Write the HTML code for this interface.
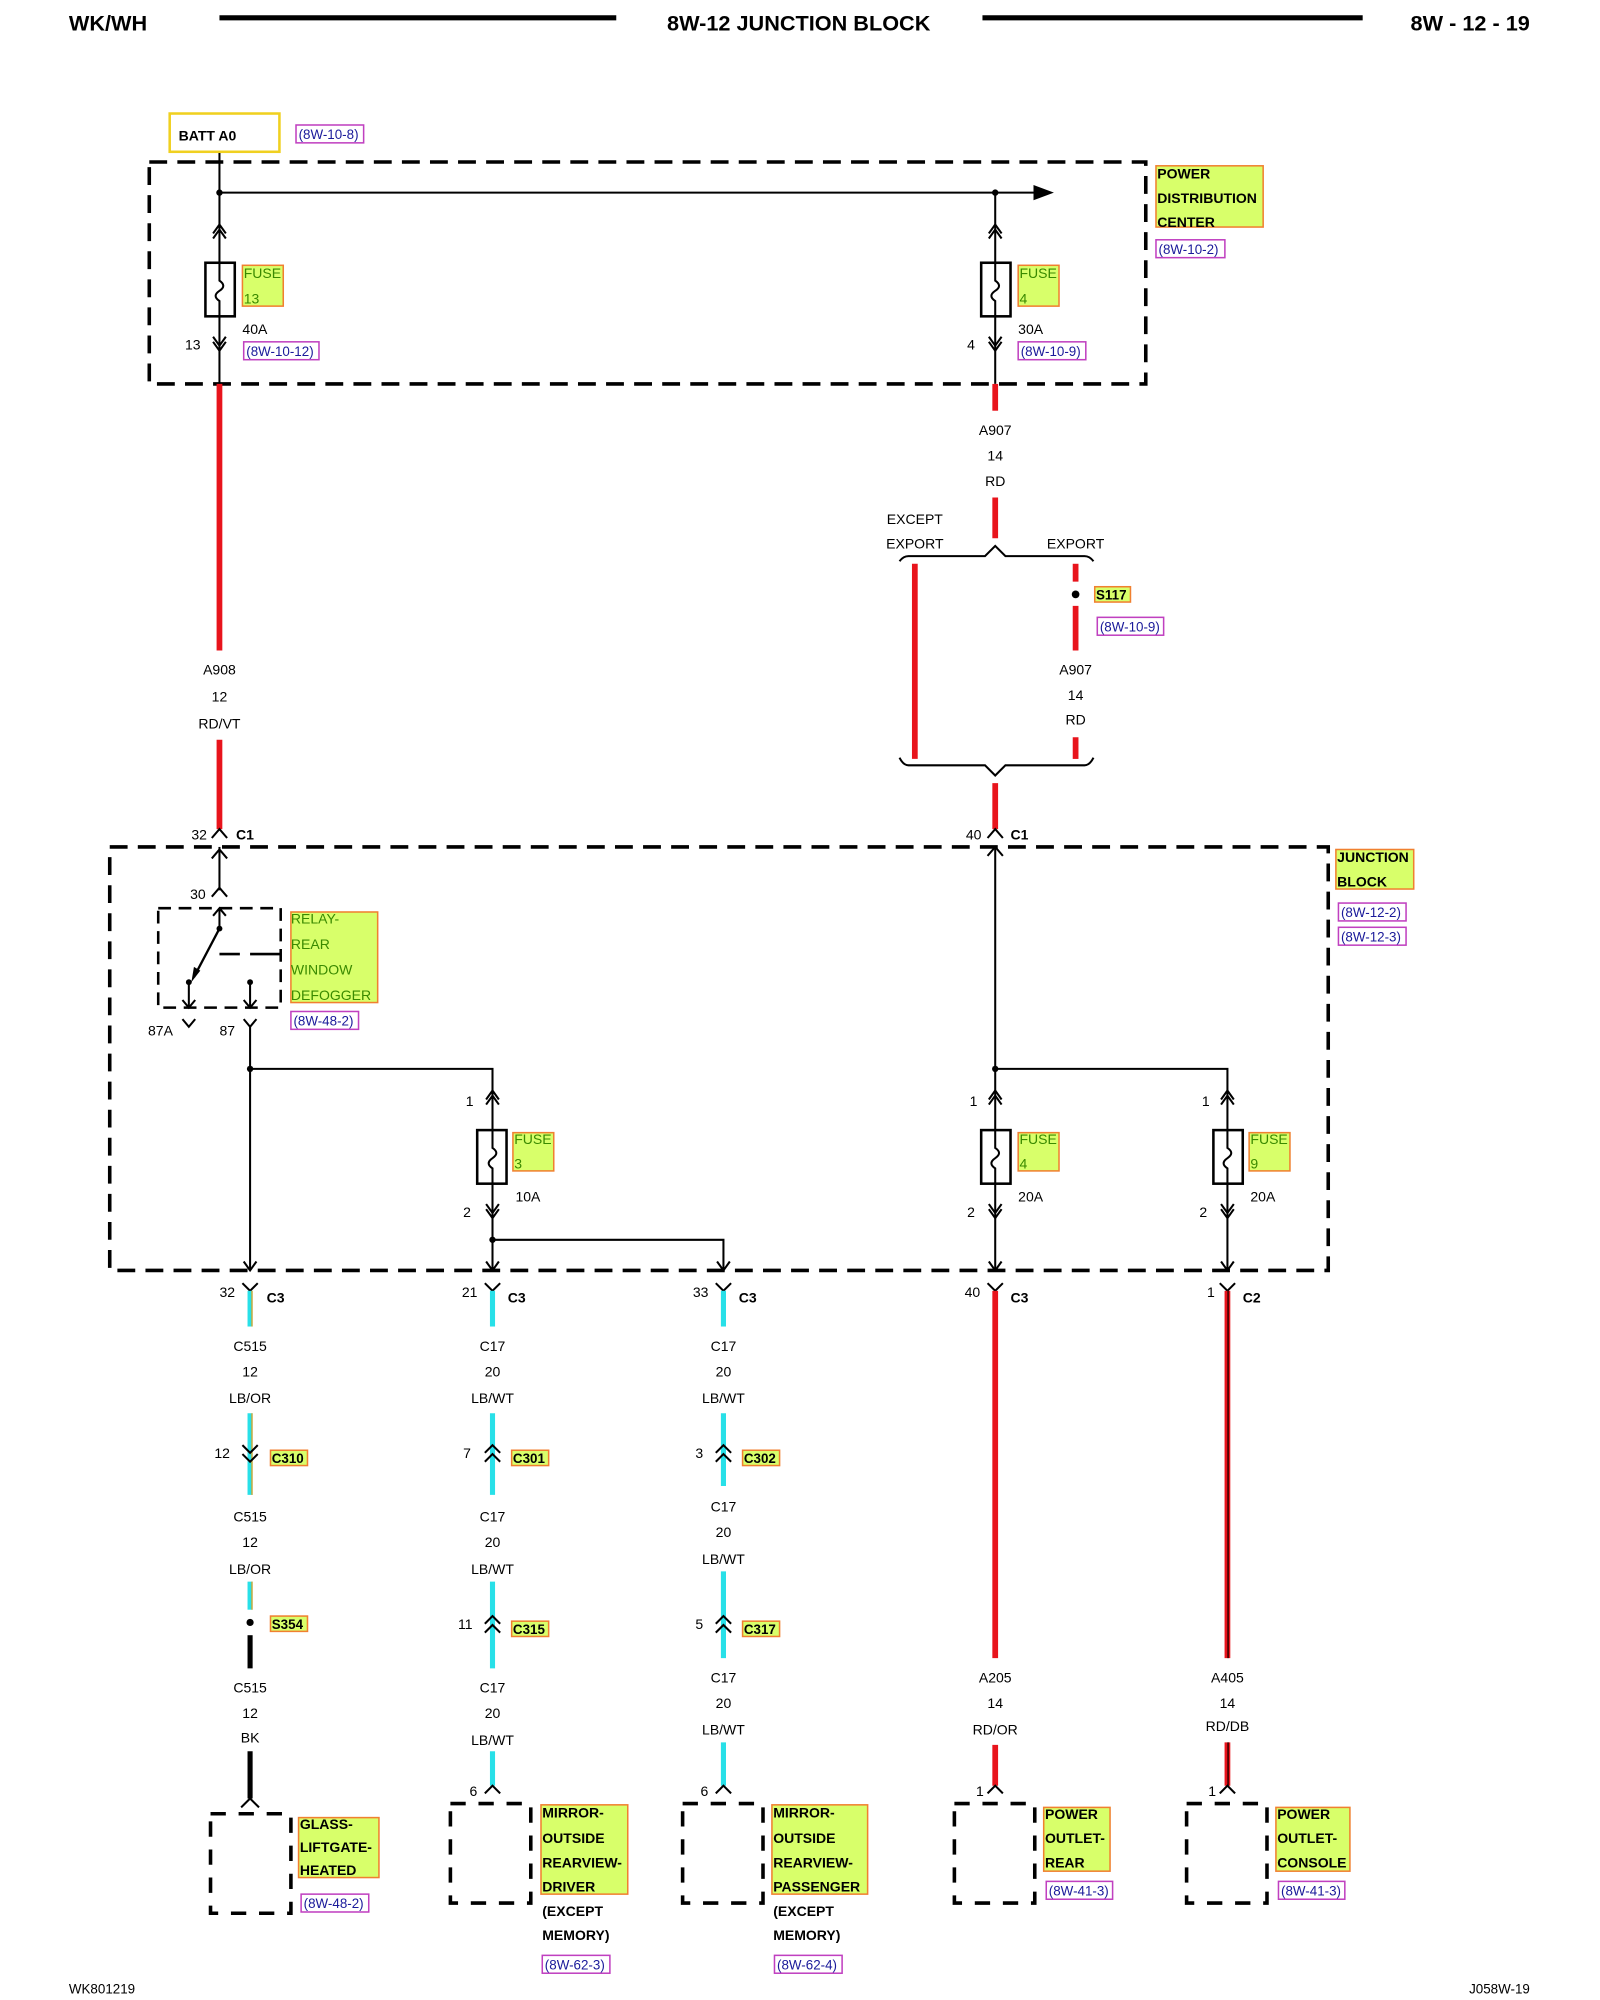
<!DOCTYPE html>
<html><head><meta charset="utf-8"><style>
html,body{margin:0;padding:0;background:#fff;width:1600px;height:2000px;overflow:hidden}
svg{display:block}
text{font-family:"Liberation Sans",Arial,sans-serif;font-size:11px;fill:#000}
.b{font-weight:bold}
.c{text-anchor:middle}
.r{text-anchor:end}
.g{fill:#3a8a00}
.ref{fill:#1a1a9a;font-size:10.5px}
.lab{fill:#d8ff6a;stroke:#f08030;stroke-width:1.2}
.refb{fill:none;stroke:#c040c0;stroke-width:1.2}
.w{stroke:#000;stroke-width:1.6;fill:none}
.red{stroke:#e8141c;stroke-width:4.5;fill:none}
.cy{stroke:#28e0e8;stroke-width:4;fill:none}
.dash{stroke:#000;stroke-width:2.8;fill:none;stroke-dasharray:14 8}
.ch{stroke:#000;stroke-width:1.6;fill:none}
</style></head><body>
<svg width="1600" height="2000" viewBox="0 0 1254 1568" preserveAspectRatio="none" xmlns="http://www.w3.org/2000/svg">
<!-- header -->
<text x="54" y="24" class="b" style="font-size:17px">WK/WH</text>
<line x1="172" y1="14" x2="483" y2="14" stroke="#000" stroke-width="4"/>
<text x="626" y="24" class="b c" style="font-size:17px">8W-12 JUNCTION BLOCK</text>
<line x1="770" y1="14" x2="1068" y2="14" stroke="#000" stroke-width="4"/>
<text x="1199" y="24" class="b r" style="font-size:17px">8W - 12 - 19</text>

<!-- BATT -->
<rect x="133" y="89" width="86" height="30" fill="#fff" stroke="#f0d020" stroke-width="2"/>
<text x="140" y="110" class="b">BATT A0</text>
<rect x="232" y="98" width="53" height="14" class="refb"/><text x="234" y="109" class="ref">(8W-10-8)</text>

<!-- PDC -->
<rect x="117" y="127" width="781" height="174" class="dash"/>
<rect x="906" y="130" width="84" height="48" class="lab"/>
<text x="907" y="140" class="b">POWER</text><text x="907" y="159" class="b">DISTRIBUTION</text><text x="907" y="178" class="b">CENTER</text>
<rect x="906" y="188" width="54" height="14" class="refb"/><text x="908" y="199" class="ref">(8W-10-2)</text>
<line x1="172" y1="120" x2="172" y2="301" class="w"/>
<line x1="172" y1="151" x2="812" y2="151" class="w"/>
<path d="M810 145 L826 151 L810 157Z" fill="#000"/>
<circle cx="172" cy="151" r="2.5"/><circle cx="780" cy="151" r="2.5"/>
<line x1="780" y1="151" x2="780" y2="301" class="w"/>
<!-- fuse 13 -->
<path d="M167 183 L172 176 L177 183 M167 187 L172 180 L177 187" class="ch"/>
<rect x="161" y="206" width="23" height="42" fill="#fff" stroke="#000" stroke-width="2"/>
<path d="M172 206 V220 Q178 224 172 228 Q166 232 172 236 V248" class="w"/>
<path d="M167 264 L172 271 L177 264 M167 268 L172 275 L177 268" class="ch"/>
<rect x="190" y="208" width="32" height="32" class="lab"/><text x="191" y="218" class="g">FUSE</text><text x="191" y="238" class="g">13</text>
<text x="190" y="262">40A</text><text x="145" y="274">13</text>
<rect x="191" y="268" width="59" height="14" class="refb"/><text x="193" y="279" class="ref">(8W-10-12)</text>
<!-- fuse 4 pdc -->
<path d="M775 183 L780 176 L785 183 M775 187 L780 180 L785 187" class="ch"/>
<rect x="769" y="206" width="23" height="42" fill="#fff" stroke="#000" stroke-width="2"/>
<path d="M780 206 V220 Q786 224 780 228 Q774 232 780 236 V248" class="w"/>
<path d="M775 264 L780 271 L785 264 M775 268 L780 275 L785 268" class="ch"/>
<rect x="798" y="208" width="32" height="32" class="lab"/><text x="799" y="218" class="g">FUSE</text><text x="799" y="238" class="g">4</text>
<text x="798" y="262">30A</text><text x="758" y="274">4</text>
<rect x="798" y="268" width="53" height="14" class="refb"/><text x="800" y="279" class="ref">(8W-10-9)</text>

<!-- A908 -->
<line x1="172" y1="301" x2="172" y2="510" class="red"/>
<text x="172" y="529" class="c">A908</text><text x="172" y="550" class="c">12</text><text x="172" y="571" class="c">RD/VT</text>
<line x1="172" y1="580" x2="172" y2="650" class="red"/>
<!-- A907 -->
<line x1="780" y1="301" x2="780" y2="322" class="red"/>
<text x="780" y="341" class="c">A907</text><text x="780" y="361" class="c">14</text><text x="780" y="381" class="c">RD</text>
<line x1="780" y1="390" x2="780" y2="422" class="red"/>
<path d="M705 440 Q708 436 712 436 H772 L780 428 L788 436 H850 Q854 436 857 440" class="w"/>
<text x="717" y="411" class="c">EXCEPT</text><text x="717" y="430" class="c">EXPORT</text><text x="843" y="430" class="c">EXPORT</text>
<line x1="717" y1="442" x2="717" y2="595" class="red"/>
<line x1="843" y1="442" x2="843" y2="456" class="red"/>
<circle cx="843" cy="466" r="3"/>
<line x1="843" y1="475" x2="843" y2="510" class="red"/>
<rect x="858" y="460" width="28" height="12" class="lab"/><text x="859" y="470" class="b" style="font-size:10.5px">S117</text>
<rect x="860" y="484" width="52" height="14" class="refb"/><text x="862" y="495" class="ref">(8W-10-9)</text>
<text x="843" y="529" class="c">A907</text><text x="843" y="549" class="c">14</text><text x="843" y="568" class="c">RD</text>
<line x1="843" y1="578" x2="843" y2="595" class="red"/>
<path d="M705 594 Q708 600 712 600 H772 L780 608 L788 600 H850 Q854 600 857 594" class="w"/>
<line x1="780" y1="614" x2="780" y2="650" class="red"/>

<!-- C1 connectors -->
<path d="M166 657 L172 650 L178 657" class="ch"/><text x="150" y="658">32</text><text x="185" y="658" class="b">C1</text>
<path d="M774 657 L780 650 L786 657" class="ch"/><text x="757" y="658">40</text><text x="792" y="658" class="b">C1</text>

<!-- Junction block -->
<rect x="86" y="664" width="955" height="332" class="dash"/>
<rect x="1047" y="666" width="61" height="31" class="lab"/>
<text x="1048" y="676" class="b">JUNCTION</text><text x="1048" y="695" class="b">BLOCK</text>
<rect x="1049" y="708" width="53" height="14" class="refb"/><text x="1051" y="719" class="ref">(8W-12-2)</text>
<rect x="1049" y="727" width="53" height="14" class="refb"/><text x="1051" y="738" class="ref">(8W-12-3)</text>

<!-- relay -->
<line x1="172" y1="664" x2="172" y2="698" class="w"/>
<path d="M166 673 L172 666 L178 673" class="ch"/>
<path d="M166 703 L172 696 L178 703" class="ch"/><text x="149" y="705">30</text>
<rect x="124" y="712" width="96" height="78" class="dash" style="stroke-width:2;stroke-dasharray:10 6"/>
<line x1="172" y1="712" x2="172" y2="728" class="w"/><path d="M167 718 L172 712 L177 718" class="ch"/>
<circle cx="172" cy="728" r="2.3"/>
<line x1="172" y1="728" x2="152" y2="766" class="w" style="stroke-width:1.8"/>
<path d="M150 770 L152 758 L157 761Z" fill="#000"/>
<circle cx="148" cy="770" r="2.3"/>
<line x1="148" y1="770" x2="148" y2="790" class="w"/><path d="M143 784 L148 790 L153 784" class="ch"/>
<circle cx="196" cy="770" r="2.3"/>
<line x1="196" y1="770" x2="196" y2="790" class="w"/><path d="M191 784 L196 790 L201 784" class="ch"/>
<path d="M172 748 H188 M196 748 H220" class="w" style="stroke-width:2"/>
<rect x="228" y="715" width="68" height="71" class="lab"/>
<text x="228" y="724" class="g">RELAY-</text><text x="228" y="744" class="g">REAR</text><text x="228" y="764" class="g">WINDOW</text><text x="228" y="784" class="g">DEFOGGER</text>
<rect x="228" y="793" width="53" height="14" class="refb"/><text x="230" y="804" class="ref">(8W-48-2)</text>
<path d="M143 799 L148 805 L153 799" class="ch"/><text x="116" y="812">87A</text>
<path d="M191 799 L196 805 L201 799" class="ch"/><text x="172" y="812">87</text>
<line x1="196" y1="805" x2="196" y2="996" class="w"/>
<path d="M191 989 L196 996 L201 989" class="ch"/>
<circle cx="196" cy="838" r="2.5"/>
<path d="M196 838 H386 V886" class="w"/>
<!-- fuse 3 -->
<path d="M381 862 L386 855 L391 862 M381 866 L386 859 L391 866" class="ch"/>
<rect x="374" y="886" width="23" height="42" fill="#fff" stroke="#000" stroke-width="2"/>
<path d="M386 886 V900 Q392 904 386 908 Q380 912 386 916 V928" class="w"/>
<line x1="386" y1="928" x2="386" y2="996" class="w"/>
<path d="M381 944 L386 951 L391 944 M381 948 L386 955 L391 948" class="ch"/>
<path d="M381 989 L386 996 L391 989" class="ch"/>
<rect x="402" y="888" width="32" height="30" class="lab"/><text x="403" y="897" class="g">FUSE</text><text x="403" y="916" class="g">3</text>
<text x="404" y="942">10A</text><text x="365" y="867">1</text><text x="363" y="954">2</text>
<circle cx="386" cy="972" r="2.5"/>
<path d="M386 972 H567 V996" class="w"/><path d="M562 989 L567 996 L572 989" class="ch"/>
<!-- right side -->
<line x1="780" y1="664" x2="780" y2="886" class="w"/>
<path d="M774 671 L780 664 L786 671" class="ch"/>
<circle cx="780" cy="838" r="2.5"/>
<path d="M780 838 H962 V886" class="w"/>
<path d="M775 862 L780 855 L785 862 M775 866 L780 859 L785 866" class="ch"/>
<rect x="769" y="886" width="23" height="42" fill="#fff" stroke="#000" stroke-width="2"/>
<path d="M780 886 V900 Q786 904 780 908 Q774 912 780 916 V928" class="w"/>
<line x1="780" y1="928" x2="780" y2="996" class="w"/>
<path d="M775 944 L780 951 L785 944 M775 948 L780 955 L785 948" class="ch"/>
<path d="M775 989 L780 996 L785 989" class="ch"/>
<rect x="798" y="888" width="32" height="30" class="lab"/><text x="799" y="897" class="g">FUSE</text><text x="799" y="916" class="g">4</text>
<text x="798" y="942">20A</text><text x="760" y="867">1</text><text x="758" y="954">2</text>
<path d="M957 862 L962 855 L967 862 M957 866 L962 859 L967 866" class="ch"/>
<rect x="951" y="886" width="23" height="42" fill="#fff" stroke="#000" stroke-width="2"/>
<path d="M962 886 V900 Q968 904 962 908 Q956 912 962 916 V928" class="w"/>
<line x1="962" y1="928" x2="962" y2="996" class="w"/>
<path d="M957 944 L962 951 L967 944 M957 948 L962 955 L967 948" class="ch"/>
<path d="M957 989 L962 996 L967 989" class="ch"/>
<rect x="979" y="888" width="32" height="30" class="lab"/><text x="980" y="897" class="g">FUSE</text><text x="980" y="916" class="g">9</text>
<text x="980" y="942">20A</text><text x="942" y="867">1</text><text x="940" y="954">2</text>

<!-- bottom connectors -->
<g>
<path d="M190 1006 L196 1012 L202 1006" class="ch"/><text x="172" y="1017">32</text><text x="209" y="1021" class="b">C3</text>
<path d="M380 1006 L386 1012 L392 1006" class="ch"/><text x="362" y="1017">21</text><text x="398" y="1021" class="b">C3</text>
<path d="M561 1006 L567 1012 L573 1006" class="ch"/><text x="543" y="1017">33</text><text x="579" y="1021" class="b">C3</text>
<path d="M774 1006 L780 1012 L786 1006" class="ch"/><text x="756" y="1017">40</text><text x="792" y="1021" class="b">C3</text>
<path d="M956 1006 L962 1012 L968 1006" class="ch"/><text x="946" y="1017">1</text><text x="974" y="1021" class="b">C2</text>
</g>

<!-- col 196 -->
<line x1="196" y1="1012" x2="196" y2="1040" class="cy"/><line x1="197.5" y1="1012" x2="197.5" y2="1040" stroke="#e0a020" stroke-width="1"/>
<text x="196" y="1059" class="c">C515</text><text x="196" y="1079" class="c">12</text><text x="196" y="1100" class="c">LB/OR</text>
<line x1="196" y1="1108" x2="196" y2="1172" class="cy"/><line x1="197.5" y1="1108" x2="197.5" y2="1172" stroke="#e0a020" stroke-width="1"/>
<path d="M190 1133 L196 1139 L202 1133 M190 1140 L196 1146 L202 1140" class="ch"/>
<text x="168" y="1143">12</text>
<rect x="212" y="1137" width="29" height="12" class="lab"/><text x="213" y="1147" class="b" style="font-size:10.5px">C310</text>
<text x="196" y="1193" class="c">C515</text><text x="196" y="1213" class="c">12</text><text x="196" y="1234" class="c">LB/OR</text>
<line x1="196" y1="1240" x2="196" y2="1262" class="cy"/><line x1="197.5" y1="1240" x2="197.5" y2="1262" stroke="#e0a020" stroke-width="1"/>
<circle cx="196" cy="1272" r="2.8"/>
<rect x="212" y="1267" width="29" height="12" class="lab"/><text x="213" y="1277" class="b" style="font-size:10.5px">S354</text>
<line x1="196" y1="1282" x2="196" y2="1308" stroke="#000" stroke-width="4"/>
<text x="196" y="1327" class="c">C515</text><text x="196" y="1347" class="c">12</text><text x="196" y="1366" class="c">BK</text>
<line x1="196" y1="1373" x2="196" y2="1410" stroke="#000" stroke-width="4"/>
<path d="M189 1417 L196 1410 L203 1417" class="ch"/>
<rect x="165" y="1422" width="63" height="78" class="dash" style="stroke-dasharray:12 10"/>
<rect x="234" y="1425" width="63" height="47" class="lab"/>
<text x="235" y="1434" class="b">GLASS-</text><text x="235" y="1452" class="b">LIFTGATE-</text><text x="235" y="1470" class="b">HEATED</text>
<rect x="236" y="1485" width="53" height="14" class="refb"/><text x="238" y="1496" class="ref">(8W-48-2)</text>

<!-- col 386 -->
<line x1="386" y1="1012" x2="386" y2="1040" class="cy"/>
<text x="386" y="1059" class="c">C17</text><text x="386" y="1079" class="c">20</text><text x="386" y="1100" class="c">LB/WT</text>
<line x1="386" y1="1108" x2="386" y2="1172" class="cy"/>
<path d="M380 1139 L386 1133 L392 1139 M380 1146 L386 1140 L392 1146" class="ch"/>
<text x="363" y="1143">7</text>
<rect x="401" y="1137" width="29" height="12" class="lab"/><text x="402" y="1147" class="b" style="font-size:10.5px">C301</text>
<text x="386" y="1193" class="c">C17</text><text x="386" y="1213" class="c">20</text><text x="386" y="1234" class="c">LB/WT</text>
<line x1="386" y1="1240" x2="386" y2="1308" class="cy"/>
<path d="M380 1273 L386 1267 L392 1273 M380 1280 L386 1274 L392 1280" class="ch"/>
<text x="359" y="1277">11</text>
<rect x="401" y="1271" width="29" height="12" class="lab"/><text x="402" y="1281" class="b" style="font-size:10.5px">C315</text>
<text x="386" y="1327" class="c">C17</text><text x="386" y="1347" class="c">20</text><text x="386" y="1368" class="c">LB/WT</text>
<line x1="386" y1="1373" x2="386" y2="1400" class="cy"/>
<path d="M380 1406 L386 1400 L392 1406" class="ch"/><text x="368" y="1408">6</text>
<rect x="353" y="1414" width="63" height="78" class="dash" style="stroke-dasharray:12 10"/>
<rect x="424" y="1415" width="68" height="70" class="lab"/>
<text x="425" y="1425" class="b">MIRROR-</text><text x="425" y="1445" class="b">OUTSIDE</text><text x="425" y="1464" class="b">REARVIEW-</text><text x="425" y="1483" class="b">DRIVER</text>
<text x="425" y="1502" class="b">(EXCEPT</text><text x="425" y="1521" class="b">MEMORY)</text>
<rect x="425" y="1533" width="53" height="14" class="refb"/><text x="427" y="1544" class="ref">(8W-62-3)</text>

<!-- col 567 -->
<line x1="567" y1="1012" x2="567" y2="1040" class="cy"/>
<text x="567" y="1059" class="c">C17</text><text x="567" y="1079" class="c">20</text><text x="567" y="1100" class="c">LB/WT</text>
<line x1="567" y1="1108" x2="567" y2="1165" class="cy"/>
<path d="M561 1139 L567 1133 L573 1139 M561 1146 L567 1140 L573 1146" class="ch"/>
<text x="545" y="1143">3</text>
<rect x="582" y="1137" width="29" height="12" class="lab"/><text x="583" y="1147" class="b" style="font-size:10.5px">C302</text>
<text x="567" y="1185" class="c">C17</text><text x="567" y="1205" class="c">20</text><text x="567" y="1226" class="c">LB/WT</text>
<line x1="567" y1="1232" x2="567" y2="1300" class="cy"/>
<path d="M561 1273 L567 1267 L573 1273 M561 1280 L567 1274 L573 1280" class="ch"/>
<text x="545" y="1277">5</text>
<rect x="582" y="1271" width="29" height="12" class="lab"/><text x="583" y="1281" class="b" style="font-size:10.5px">C317</text>
<text x="567" y="1319" class="c">C17</text><text x="567" y="1339" class="c">20</text><text x="567" y="1360" class="c">LB/WT</text>
<line x1="567" y1="1366" x2="567" y2="1400" class="cy"/>
<path d="M561 1406 L567 1400 L573 1406" class="ch"/><text x="549" y="1408">6</text>
<rect x="535" y="1414" width="63" height="78" class="dash" style="stroke-dasharray:12 10"/>
<rect x="605" y="1415" width="75" height="70" class="lab"/>
<text x="606" y="1425" class="b">MIRROR-</text><text x="606" y="1445" class="b">OUTSIDE</text><text x="606" y="1464" class="b">REARVIEW-</text><text x="606" y="1483" class="b">PASSENGER</text>
<text x="606" y="1502" class="b">(EXCEPT</text><text x="606" y="1521" class="b">MEMORY)</text>
<rect x="607" y="1533" width="53" height="14" class="refb"/><text x="609" y="1544" class="ref">(8W-62-4)</text>

<!-- col 780 -->
<line x1="780" y1="1012" x2="780" y2="1300" class="red"/>
<text x="780" y="1319" class="c">A205</text><text x="780" y="1339" class="c">14</text><text x="780" y="1360" class="c">RD/OR</text>
<line x1="780" y1="1368" x2="780" y2="1400" class="red"/>
<path d="M774 1406 L780 1400 L786 1406" class="ch"/><text x="765" y="1408">1</text>
<rect x="748" y="1414" width="63" height="78" class="dash" style="stroke-dasharray:12 10"/>
<rect x="818" y="1417" width="52" height="50" class="lab"/>
<text x="819" y="1426" class="b">POWER</text><text x="819" y="1445" class="b">OUTLET-</text><text x="819" y="1464" class="b">REAR</text>
<rect x="820" y="1475" width="52" height="14" class="refb"/><text x="822" y="1486" class="ref">(8W-41-3)</text>

<!-- col 962 -->
<line x1="962" y1="1012" x2="962" y2="1300" class="red"/><line x1="962.5" y1="1012" x2="962.5" y2="1300" stroke="#3a0000" stroke-width="1.2"/>
<text x="962" y="1319" class="c">A405</text><text x="962" y="1339" class="c">14</text><text x="962" y="1357" class="c">RD/DB</text>
<line x1="962" y1="1366" x2="962" y2="1400" class="red"/><line x1="962.5" y1="1366" x2="962.5" y2="1400" stroke="#3a0000" stroke-width="1.2"/>
<path d="M956 1406 L962 1400 L968 1406" class="ch"/><text x="947" y="1408">1</text>
<rect x="930" y="1414" width="63" height="78" class="dash" style="stroke-dasharray:12 10"/>
<rect x="1000" y="1417" width="58" height="50" class="lab"/>
<text x="1001" y="1426" class="b">POWER</text><text x="1001" y="1445" class="b">OUTLET-</text><text x="1001" y="1464" class="b">CONSOLE</text>
<rect x="1002" y="1475" width="52" height="14" class="refb"/><text x="1004" y="1486" class="ref">(8W-41-3)</text>

<!-- footer -->
<text x="54" y="1563" style="font-size:10.5px">WK801219</text>
<text x="1199" y="1563" class="r" style="font-size:10.5px">J058W-19</text>
</svg>
</body></html>
